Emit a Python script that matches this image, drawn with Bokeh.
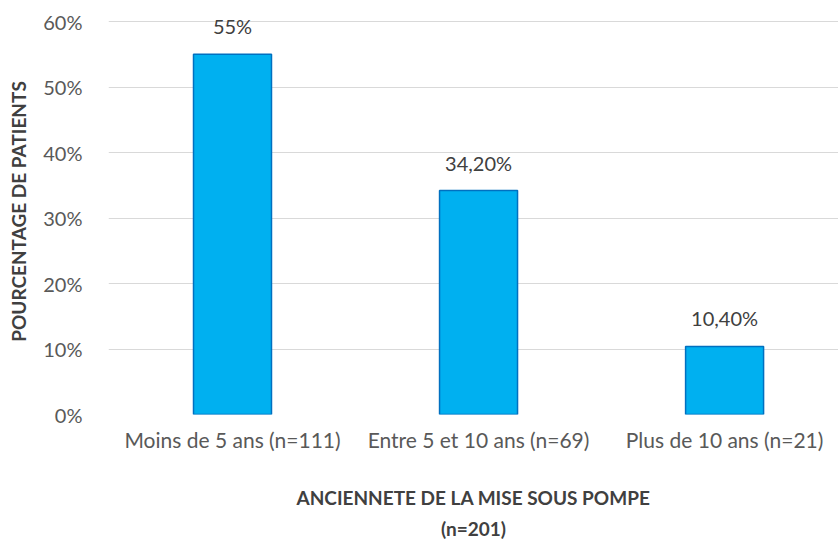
from bokeh.plotting import figure
from bokeh.models import ColumnDataSource, Range1d, FixedTicker, NumeralTickFormatter, LabelSet
from bokeh.core.properties import value
from bokeh.embed import file_html
from bokeh.resources import INLINE

categories = ["Moins de 5 ans (n=111)", "Entre 5 et 10 ans (n=69)", "Plus de 10 ans (n=21)"]
values = [0.55, 0.342, 0.104]
value_labels = ["55%", "34,20%", "10,40%"]
y_ticks = [0, 0.1, 0.2, 0.3, 0.4, 0.5, 0.6]

FONT = "Lato"
xs = list(range(len(categories)))
src = ColumnDataSource(dict(x=xs, top=values, lab=value_labels))

p = figure(width=838, height=548, output_backend="svg", toolbar_location=None,
           x_range=Range1d(-0.504, 2.463), y_range=Range1d(0, 0.62),
           min_border_left=108, min_border_right=0, min_border_top=8, min_border_bottom=134)
p.outline_line_color = None
p.background_fill_color = "white"

p.vbar(x="x", top="top", width=0.317, source=src, fill_color="#00B0F0",
       line_color="#0070C0", line_width=1.5)

labels = LabelSet(x="x", y="top", text="lab", source=src, text_align="center",
                  text_baseline="bottom", y_offset=16, text_font=value(FONT),
                  text_font_size="20px", text_color="#404040")
p.add_layout(labels)

p.xaxis.ticker = FixedTicker(ticks=xs)
p.xaxis.major_label_overrides = {i: c for i, c in enumerate(categories)}
p.yaxis.ticker = FixedTicker(ticks=y_ticks)
p.yaxis.formatter = NumeralTickFormatter(format="0%")

for ax in (p.xaxis, p.yaxis):
    ax.axis_line_color = None
    ax.major_tick_line_color = None
    ax.minor_tick_line_color = None
    ax.major_label_text_font = FONT
    ax.major_label_text_font_size = "20px"
    ax.major_label_text_color = "#595959"
    ax.axis_label_text_font = FONT
    ax.axis_label_text_font_style = "bold"
    ax.axis_label_text_font_size = "19px"
    ax.axis_label_text_color = "#404040"

p.xaxis.major_label_text_font_size = "21px"
p.xaxis.major_label_standoff = 6
p.yaxis.major_label_standoff = 20
p.xaxis.axis_label = "ANCIENNETE DE LA MISE SOUS POMPE\n(n=201)"
p.xaxis.axis_label_standoff = 31
p.xaxis.axis_label_text_line_height = 1.35
p.yaxis.axis_label = "POURCENTAGE DE PATIENTS"
p.yaxis.axis_label_standoff = 10

p.xgrid.grid_line_color = None
p.ygrid.grid_line_color = "#D9D9D9"
p.ygrid.grid_line_width = 1.2

open("out.html", "w").write(file_html(p, INLINE))
